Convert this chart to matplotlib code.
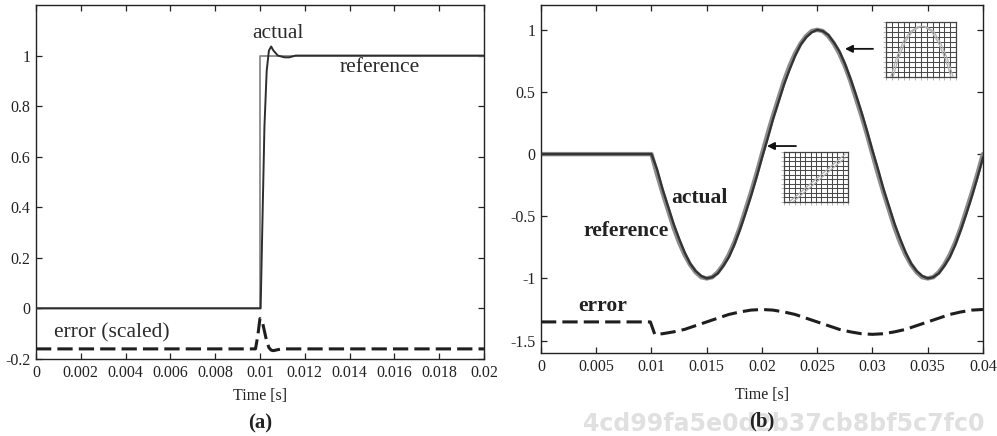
import matplotlib
matplotlib.use("Agg")
import matplotlib.pyplot as plt

# ---------------- data: panel (a) step response ----------------
t_ref_a = [0.0, 0.01, 0.01, 0.02]
ref_a = [0.0, 0.0, 1.0, 1.0]

t_act_a = [0.0, 0.01, 0.01003, 0.0101, 0.0102, 0.0103, 0.0104, 0.0105,
           0.0106, 0.0108, 0.0111, 0.0113, 0.0116, 0.02]
act_a = [0.0, 0.0, 0.0, 0.30, 0.72, 0.94, 1.02, 1.036,
         1.02, 1.0, 0.993, 0.993, 1.0, 1.0]

t_err_a = [0.0, 0.0098, 0.0099, 0.01, 0.0101, 0.0102, 0.0103, 0.0104,
           0.0105, 0.0106, 0.0108, 0.011, 0.02]
err_a = [-0.16, -0.16, -0.11, -0.04, -0.05, -0.09, -0.13, -0.155,
         -0.165, -0.167, -0.163, -0.16, -0.16]

xticks_a = [0, 0.002, 0.004, 0.006, 0.008, 0.01, 0.012, 0.014, 0.016, 0.018, 0.02]
xticklabels_a = ["0", "0.002", "0.004", "0.006", "0.008", "0.01", "0.012",
                 "0.014", "0.016", "0.018", "0.02"]
yticks_a = [-0.2, 0, 0.2, 0.4, 0.6, 0.8, 1.0]
yticklabels_a = ["-0.2", "0", "0.2", "0.4", "0.6", "0.8", "1"]

# ---------------- data: panel (b) sinusoidal response ----------------
t_b = [0.0, 0.01, 0.0105, 0.011, 0.0115, 0.012, 0.0125, 0.013, 0.0135, 0.014,
       0.0145, 0.015, 0.0155, 0.016, 0.0165, 0.017, 0.0175, 0.018, 0.0185,
       0.019, 0.0195, 0.02, 0.0205, 0.021, 0.0215, 0.022, 0.0225, 0.023,
       0.0235, 0.024, 0.0245, 0.025, 0.0255, 0.026, 0.0265, 0.027, 0.0275,
       0.028, 0.0285, 0.029, 0.0295, 0.03, 0.0305, 0.031, 0.0315, 0.032,
       0.0325, 0.033, 0.0335, 0.034, 0.0345, 0.035, 0.0355, 0.036, 0.0365,
       0.037, 0.0375, 0.038, 0.0385, 0.039, 0.0395, 0.04]
ref_b = [0.0, 0.0, -0.16, -0.31, -0.45, -0.59, -0.71, -0.81, -0.89, -0.95,
         -0.99, -1.0, -0.99, -0.95, -0.89, -0.81, -0.71, -0.59, -0.45, -0.31,
         -0.16, 0.0, 0.16, 0.31, 0.45, 0.59, 0.71, 0.81, 0.89, 0.95, 0.99,
         1.0, 0.99, 0.95, 0.89, 0.81, 0.71, 0.59, 0.45, 0.31, 0.16, 0.0,
         -0.16, -0.31, -0.45, -0.59, -0.71, -0.81, -0.89, -0.95, -0.99, -1.0,
         -0.99, -0.95, -0.89, -0.81, -0.71, -0.59, -0.45, -0.31, -0.16, 0.0]
act_b = [0.0, 0.0, -0.12, -0.28, -0.42, -0.56, -0.68, -0.79, -0.88, -0.94,
         -0.98, -1.0, -0.99, -0.96, -0.90, -0.83, -0.73, -0.61, -0.48, -0.34,
         -0.19, -0.03, 0.12, 0.28, 0.42, 0.56, 0.68, 0.79, 0.88, 0.94, 0.98,
         1.0, 0.99, 0.96, 0.90, 0.83, 0.73, 0.61, 0.48, 0.34, 0.19, 0.03,
         -0.12, -0.28, -0.42, -0.56, -0.68, -0.79, -0.88, -0.94, -0.98, -1.0,
         -0.99, -0.96, -0.90, -0.83, -0.73, -0.61, -0.48, -0.34, -0.19, -0.03]

t_err_b = [0.0, 0.0099, 0.0103, 0.011, 0.012, 0.013, 0.014, 0.015, 0.016,
           0.017, 0.018, 0.019, 0.02, 0.021, 0.022, 0.023, 0.024, 0.025,
           0.026, 0.027, 0.028, 0.029, 0.03, 0.031, 0.032, 0.033, 0.034,
           0.035, 0.036, 0.037, 0.038, 0.039, 0.04]
err_b = [-1.35, -1.35, -1.45, -1.445, -1.43, -1.41, -1.38, -1.35, -1.32,
         -1.29, -1.27, -1.255, -1.25, -1.255, -1.27, -1.29, -1.32, -1.35,
         -1.38, -1.41, -1.43, -1.445, -1.45, -1.445, -1.43, -1.41, -1.38,
         -1.35, -1.32, -1.29, -1.27, -1.255, -1.25]

xticks_b = [0, 0.005, 0.01, 0.015, 0.02, 0.025, 0.03, 0.035, 0.04]
xticklabels_b = ["0", "0.005", "0.01", "0.015", "0.02", "0.025", "0.03",
                 "0.035", "0.04"]
yticks_b = [-1.5, -1, -0.5, 0, 0.5, 1]
yticklabels_b = ["-1.5", "-1", "-0.5", "0", "0.5", "1"]

# small zoom insets (normalised inset coordinates)
ins1_x_ref = [0.07, 0.15, 0.25, 0.35, 0.45, 0.50, 0.55, 0.65, 0.75, 0.85, 0.93]
ins1_y_ref = [0.0, 0.35, 0.65, 0.83, 0.91, 0.92, 0.91, 0.83, 0.62, 0.32, 0.0]
ins1_x_act = [0.10, 0.18, 0.28, 0.38, 0.48, 0.53, 0.58, 0.68, 0.78, 0.88, 0.96]
ins1_y_act = [0.0, 0.35, 0.65, 0.83, 0.91, 0.92, 0.91, 0.83, 0.62, 0.32, 0.0]
ins2_x_ref = [0.08, 0.95]
ins2_y_ref = [0.0, 0.95]
ins2_x_act = [0.14, 0.95]
ins2_y_act = [0.0, 0.88]

# ---------------- styling ----------------
SERIF = ["Liberation Serif", "DejaVu Serif"]
plt.rcParams["font.family"] = SERIF

fig = plt.figure(figsize=(9.97, 4.36), dpi=100)
fig.patch.set_facecolor("white")

TICK_FS = 11.5
LABEL_FS = 11.5
ANN_FS = 15.5


def style_axes(ax):
    for s in ax.spines.values():
        s.set_linewidth(1.0)
        s.set_color("#222222")
    ax.tick_params(direction="in", top=True, right=True, length=4, width=0.9,
                   labelsize=TICK_FS, colors="#222222", pad=4)


# ---------------- panel (a) ----------------
axa = fig.add_axes([0.0361, 0.1766, 0.4493, 0.8119])
axa.plot(t_ref_a, ref_a, color="#8a8a8a", lw=1.3, zorder=2)
axa.plot(t_act_a, act_a, color="#2e2e2e", lw=1.4, zorder=3)
axa.plot(t_err_a, err_a, color="#1e1e1e", lw=2.2, dashes=(5.0, 2.0), zorder=3)
axa.set_xlim(0, 0.02)
axa.set_ylim(-0.2, 1.2)
axa.set_xticks(xticks_a)
axa.set_xticklabels(xticklabels_a)
axa.set_yticks(yticks_a)
axa.set_yticklabels(yticklabels_a)
style_axes(axa)
axa.set_xlabel("Time [s]", fontsize=LABEL_FS, labelpad=5, color="#222222")
axa.text(0.0108, 1.087, "actual", fontsize=ANN_FS, ha="center", va="center",
         color="#2a2a2a")
axa.text(0.01536, 0.954, "reference", fontsize=ANN_FS, ha="center",
         va="center", color="#2a2a2a")
axa.text(0.0034, -0.095, "error (scaled)", fontsize=ANN_FS, ha="center",
         va="center", color="#2a2a2a")

# ---------------- panel (b) ----------------
axb = fig.add_axes([0.5426, 0.1904, 0.4433, 0.7982])
axb.plot(t_b, ref_b, color="#8c8c8c", lw=3.2, zorder=2,
         solid_capstyle="round")
axb.plot(t_b, act_b, color="#333333", lw=1.7, zorder=3)
axb.plot(t_err_b, err_b, color="#1e1e1e", lw=2.2, dashes=(5.0, 2.0), zorder=3)
axb.set_xlim(0, 0.04)
axb.set_ylim(-1.6, 1.2)
axb.set_xticks(xticks_b)
axb.set_xticklabels(xticklabels_b)
axb.set_yticks(yticks_b)
axb.set_yticklabels(yticklabels_b)
style_axes(axb)
axb.set_xlabel("Time [s]", fontsize=LABEL_FS, labelpad=9, color="#222222")
axb.text(0.0143, -0.35, "actual", fontsize=ANN_FS, fontweight="bold",
         ha="center", va="center", color="#222222")
axb.text(0.0077, -0.62, "reference", fontsize=ANN_FS, fontweight="bold",
         ha="center", va="center", color="#222222")
axb.text(0.0056, -1.22, "error", fontsize=ANN_FS, fontweight="bold",
         ha="center", va="center", color="#222222")

arrow = dict(arrowstyle="-|>", color="#111111", lw=1.3, mutation_scale=11,
             shrinkA=0, shrinkB=0)
axb.annotate("", xy=(0.02751, 0.847), xytext=(0.03005, 0.847),
             arrowprops=arrow)
axb.annotate("", xy=(0.02045, 0.065), xytext=(0.02308, 0.065),
             arrowprops=arrow)


def grid_inset(rect, xs_list, ys_list):
    ax = fig.add_axes(rect)
    ax.set_xlim(0, 1)
    ax.set_ylim(0, 1)
    ax.set_xticks([i / 12 for i in range(13)])
    ax.set_yticks([i / 11 for i in range(12)])
    ax.grid(True, color="#4a4a4a", lw=0.75)
    ax.tick_params(length=2, width=0.5, colors="#999999",
                   labelleft=False, labelbottom=False)
    for s in ax.spines.values():
        s.set_color("#444444")
        s.set_linewidth(0.9)
    for xs, ys in zip(xs_list, ys_list):
        ax.plot(xs, ys, color="#b0b0b0", lw=0.9, zorder=3)
    return ax


grid_inset([886 / 997, 1 - 77 / 436, 70 / 997, 55 / 436],
           [ins1_x_ref, ins1_x_act], [ins1_y_ref, ins1_y_act])
grid_inset([784 / 997, 1 - 202 / 436, 64 / 997, 50 / 436],
           [ins2_x_ref, ins2_x_act], [ins2_y_ref, ins2_y_act])

# panel captions
fig.text(0.5 * (36 + 484) / 997, 1 - 423 / 436, "(a)", fontsize=15,
         fontweight="bold", ha="center", va="center", color="#222222")
fig.text(0.5 * (541 + 983) / 997, 1 - 421 / 436, "(b)", fontsize=15,
         fontweight="bold", ha="center", va="center", color="#222222",
         zorder=5)

# faint identifier strip at bottom right
fig.text(583 / 997, 1 - 424 / 436, "4cd99fa5e0d2b37cb8bf5c7fc0",
         fontsize=17, family="DejaVu Sans", fontweight="bold", ha="left",
         va="center", color="#e0e0e0", zorder=0)

fig.savefig("out.png", dpi=100, facecolor="white")
